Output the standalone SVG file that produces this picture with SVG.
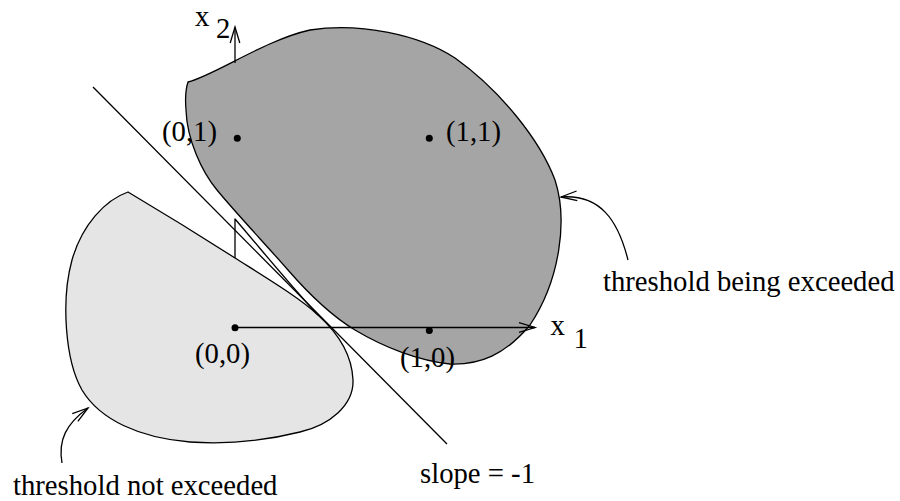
<svg xmlns="http://www.w3.org/2000/svg" width="900" height="501" viewBox="0 0 900 501">
<style>
.ln{fill:none;stroke:#000;stroke-width:1.3;stroke-linejoin:round}
.t{font-family:"Liberation Serif","Times New Roman",serif;font-size:28.7px;fill:#000}
.dot{fill:#000}
</style>
<defs>
<marker id="oa" markerUnits="userSpaceOnUse" viewBox="-18 -7 20 14" refX="0" refY="0" markerWidth="20" markerHeight="14" orient="auto" overflow="visible">
<path d="M-16,-4.8 L0,0 L-16,4.8" fill="none" stroke="#000" stroke-width="1.3"/>
</marker>
</defs>
<rect width="900" height="501" fill="#fff"/>
<g id="region-not-exceeded">
<path class="ln" style="fill:#e5e5e5" d="M128,192 C165,214 210,242 235,258 C265,277 300,298 318,315 C338,333 352,355 353,380 C354,405 330,425 300,432 C260,442 220,444 190,442 C140,438 100,420 82,390 C65,360 61,300 72,260 C82,225 105,200 128,192 Z"/>
</g>
<g id="region-exceeded">
<path class="ln" style="fill:#a5a5a5" d="M188,82 C215,75 265,40 310,30 C360,22 420,35 455,58 C500,90 540,140 555,180 C568,220 560,280 530,325 C505,355 480,365 450,364 C420,361 385,348 355,330 C330,315 308,293 288,270 C268,247 235,212 217,190 C202,172 187,140 186,110 C185,98 186,88 188,82 Z"/>
</g>
<g id="connectors">
<path id="sliver" class="ln" d="M235,258 L235,219 C260,248 290,285 318,315"/>
<line id="slope-line" class="ln" x1="93" y1="87" x2="447" y2="444"/>
<line id="x2-axis" class="ln" x1="235" y1="63" x2="235" y2="27" marker-end="url(#oa)"/>
<line id="x1-axis" class="ln" x1="235" y1="327.5" x2="535" y2="327.5" marker-end="url(#oa)"/>
<path id="arrow-exceeded" class="ln" d="M628,260 C618,220 600,194 561,197" marker-end="url(#oa)"/>
<path id="arrow-not-exceeded" class="ln" d="M62,463 C58,440 66,424 88,408" marker-end="url(#oa)"/>
</g>
<g id="point-00"><circle class="dot" cx="235" cy="327.7" r="3.5"/><text class="t" x="195" y="363">(0,0)</text></g>
<g id="point-01"><circle class="dot" cx="237.3" cy="138.3" r="3.5"/><text class="t" x="162" y="141">(0,1)</text></g>
<g id="point-11"><circle class="dot" cx="429.3" cy="138.3" r="3.5"/><text class="t" x="446" y="140.5">(1,1)</text></g>
<g id="point-10"><circle class="dot" cx="429.3" cy="330.5" r="3.5"/><text class="t" x="400" y="367">(1,0)</text></g>
<g id="label-x2"><text class="t" x="195" y="26">x</text><text class="t" x="216" y="38">2</text></g>
<g id="label-x1"><text class="t" x="550.5" y="335">x</text><text class="t" x="573.5" y="348">1</text></g>
<g id="label-exceeded"><text class="t" x="603" y="291">threshold being exceeded</text></g>
<g id="label-not-exceeded"><text class="t" x="13" y="495">threshold not exceeded</text></g>
<g id="label-slope"><text class="t" x="420" y="483">slope = -1</text></g>
</svg>
